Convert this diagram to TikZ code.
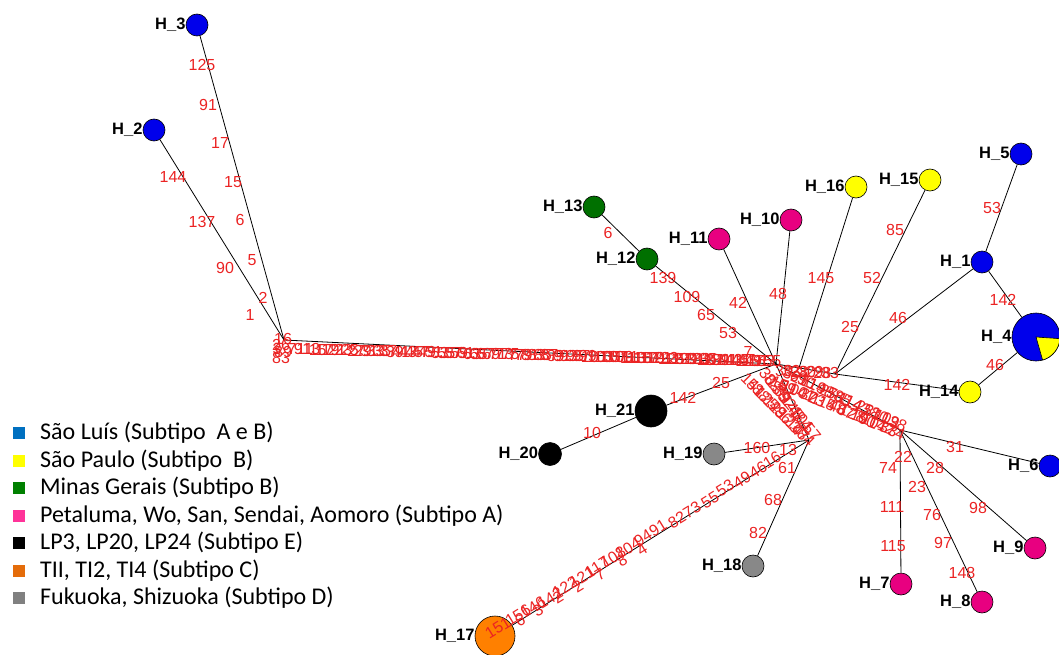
\documentclass[tikz,border=0pt]{standalone}
\usepackage{fontspec}
\setmainfont{Liberation Sans}
\newfontfamily\legendfont{Carlito}
\usetikzlibrary{calc}
\pgfdeclarelayer{edges}
\pgfsetlayers{edges,main}
% haplotype colours
\definecolor{numred}{RGB}{235,35,35}
\definecolor{hblue}{RGB}{0,0,235}
\definecolor{hpink}{RGB}{232,0,128}
\definecolor{hgreen}{RGB}{0,112,0}
\definecolor{hyellow}{RGB}{255,255,0}
\definecolor{hgray}{RGB}{136,136,136}
\definecolor{horange}{RGB}{255,128,0}
% legend colours
\definecolor{lblue}{RGB}{0,112,192}
\definecolor{lyellow}{RGB}{255,255,0}
\definecolor{lgreen}{RGB}{0,128,0}
\definecolor{lpink}{RGB}{255,51,153}
\definecolor{lorange}{RGB}{228,108,10}
\definecolor{lgray}{RGB}{128,128,128}
\begin{document}
\begin{tikzpicture}[x=1pt,y=-1pt,
  hap/.style={circle,draw=black,line width=0.6pt,inner sep=0pt,minimum size=22pt,label distance=1pt},
  namelbl/.style={font=\fontsize{16.5}{16.5}\selectfont\bfseries,text=black,inner sep=0pt},
  num/.style={text=numred,font=\fontsize{16}{16}\selectfont,inner sep=0pt},
  edge/.style={draw=black,line width=0.8pt},
  lgsq/.style={minimum size=12pt,inner sep=0pt},
  lgtxt/.style={font=\legendfont\fontsize{24}{24}\selectfont,inner sep=0pt,anchor=west}]
\useasboundingbox (0,0) rectangle (1059,655);

% ---------- median vectors (junctions) ----------
\coordinate (L) at (284,340);
\coordinate (C) at (776,364);
\coordinate (Cm) at (799,368);
\coordinate (B) at (835,374);
\coordinate (D) at (900,430);
\coordinate (E) at (809,440);

% ---------- haplotypes ----------
\node[hap,fill=hblue,label={[namelbl]left:H\_3}] (h3) at (197,25) {};
\node[hap,fill=hblue,label={[namelbl]left:H\_2}] (h2) at (154,130) {};
\node[hap,fill=hgreen,label={[namelbl]left:H\_13}] (h13) at (594,207) {};
\node[hap,fill=hgreen,label={[namelbl]left:H\_12}] (h12) at (647,259) {};
\node[hap,fill=hpink,label={[namelbl]left:H\_11}] (h11) at (719,239) {};
\node[hap,fill=hpink,label={[namelbl]left:H\_10}] (h10) at (791,220) {};
\node[hap,fill=hyellow,label={[namelbl]left:H\_16}] (h16) at (856,187) {};
\node[hap,fill=hyellow,label={[namelbl]left:H\_15}] (h15) at (930,180) {};
\node[hap,fill=hblue,label={[namelbl]left:H\_5}] (h5) at (1021,154) {};
\node[hap,fill=hblue,label={[namelbl]left:H\_1}] (h1) at (982,262) {};
\node[hap,fill=hblue,minimum size=48pt,label={[namelbl]left:H\_4}] (h4) at (1036,337) {};
\fill[hyellow,draw=black,line width=0.6pt] (h4.center) -- ++(4:24) arc[start angle=4,end angle=74,radius=24] -- cycle;
\node[hap,fill=hyellow,label={[namelbl]left:H\_14}] (h14) at (970,392) {};
\node[hap,fill=hblue,label={[namelbl]left:H\_6}] (h6) at (1050,466) {};
\node[hap,fill=hpink,label={[namelbl]left:H\_9}] (h9) at (1035,548) {};
\node[hap,fill=hpink,label={[namelbl]left:H\_8}] (h8) at (982,602) {};
\node[hap,fill=hpink,label={[namelbl]left:H\_7}] (h7) at (901,584) {};
\node[hap,fill=hgray,label={[namelbl]left:H\_18}] (h18) at (753,566) {};
\node[hap,fill=hgray,label={[namelbl]left:H\_19}] (h19) at (714,454) {};
\node[hap,fill=horange,minimum size=40pt,label={[namelbl]left:H\_17}] (h17) at (495,636) {};
\node[hap,fill=black,minimum size=23pt,label={[namelbl]left:H\_20}] (h20) at (550,454) {};
\node[hap,fill=black,minimum size=32pt,label={[namelbl]left:H\_21}] (h21) at (651,411) {};

% ---------- connectors ----------
\begin{pgfonlayer}{edges}
\draw[edge] (h3) -- (L);
\draw[edge] (h2) -- (L);
\draw[edge] (L) -- (C);
\draw[edge] (h13) -- (h12);
\draw[edge] (h12) -- (C);
\draw[edge] (h11) -- (C);
\draw[edge] (h10) -- (C);
\draw[edge] (h16) -- (Cm);
\draw[edge] (C) -- (B);
\draw[edge] (h15) -- (B);
\draw[edge] (h1) -- (B);
\draw[edge] (h14) -- (B);
\draw[edge] (h5) -- (h1);
\draw[edge] (h1) -- (h4);
\draw[edge] (h4) -- (h14);
\draw[edge] (h21) -- (C);
\draw[edge] (h20) -- (h21);
\draw[edge] (C) -- (E);
\draw[edge] (C) -- (D);
\draw[edge] (E) -- (h19);
\draw[edge] (E) -- (h18);
\draw[edge] (E) -- (h17);
\draw[edge] (D) -- (h6);
\draw[edge] (D) -- (h9);
\draw[edge] (D) -- (h8);
\draw[edge] (D) -- (h7);
\end{pgfonlayer}

% ---------- mutated positions ----------
% H_3 branch
\foreach \x/\y/\t in {202/65/125,208/105/91,220/143/17,233/182/15,240/220/6,252/260/5,263/298/2,250/315/1}
  \node[num] at (\x,\y) {\t};
% H_2 branch
\foreach \x/\y/\t in {173/177/144,202/222/137,225/268/90}
  \node[num] at (\x,\y) {\t};
% knot at the left junction
\foreach \x/\y/\t in {283/339/16,281/345/26,277/349/3,283/352/89,281/358/83}
  \node[num] at (\x,\y) {\t};
% long branch between the two junctions
\coordinate (sLa) at (292,349);
\coordinate (sLb) at (768,361);
\foreach \i in {0,...,74}{
  \pgfmathsetmacro\p{\i/74}
  \pgfmathtruncatemacro\n{7+2*\i}
  \path (sLa) -- (sLb) node[num,pos=\p] {\n};
}
% upper branches
\foreach \x/\y/\t in {608/233/6,663/278/139,687/297/109,706/315/65,728/333/53,748/352/7,
  738/303/42,778/294/48,821/278/145,895/230/85,872/278/52,850/327/25,898/318/46,
  992/208/53,1003/300/142,995/365/46,897/385/142,683/398/142,721/383/25,592/433/10}
  \node[num] at (\x,\y) {\t};
% short branch to the right junction
\coordinate (sBa) at (784,371);
\coordinate (sBb) at (830,373);
\foreach \i/\t in {0/30,1/32,2/28,3/30,4/29,5/28,6/33}{
  \pgfmathsetmacro\p{\i/6}
  \path (sBa) -- (sBb) node[num,pos=\p] {\t};
}
% bundles towards the lower junctions
\coordinate (rAa) at (750,382);
\coordinate (rAb) at (806,438);
\coordinate (rBa) at (768,377);
\coordinate (rBb) at (812,432);
\coordinate (rCa) at (780,384);
\coordinate (rCb) at (896,432);
\coordinate (rDa) at (792,375);
\coordinate (rDb) at (894,422);
\foreach \i in {0,...,10}{
  \pgfmathsetmacro\p{\i/10}
  \pgfmathtruncatemacro\n{mod(37*\i+13,150)+1}
  \path (rAa) -- (rAb) node[num,pos=\p,sloped] {\n};
}
\foreach \i in {0,...,9}{
  \pgfmathsetmacro\p{\i/9}
  \pgfmathtruncatemacro\n{mod(53*\i+29,150)+1}
  \path (rBa) -- (rBb) node[num,pos=\p,sloped] {\n};
}
\foreach \i in {0,...,16}{
  \pgfmathsetmacro\p{\i/16}
  \pgfmathtruncatemacro\n{mod(41*\i+17,150)+1}
  \path (rCa) -- (rCb) node[num,pos=\p,sloped] {\n};
}
\foreach \i in {0,...,14}{
  \pgfmathsetmacro\p{\i/14}
  \pgfmathtruncatemacro\n{mod(29*\i+31,150)+1}
  \path (rDa) -- (rDb) node[num,pos=\p,sloped] {\n};
}
% H_19 and H_18 branches
\foreach \x/\y/\t in {757/448/160,788/450/13,787/468/61,773/500/68,758/533/82}
  \node[num] at (\x,\y) {\t};
% H_17 branch
\foreach \x/\y/\t in {772/460/16,758/470/46,742/480/49,725/488/53,710/500/55,692/510/73,
  677/520/82,658/528/91,643/538/94,628/548/104,613/557/108,597/567/117,582/577/121,
  565/587/122,550/598/142,533/607/146,518/615/156,498/628/151}
  \node[num,rotate=31.6] at (\x,\y) {\t};
\foreach \x/\y/\t in {642/549/4,622/560/8,600/574/7,578/586/2,558/597/2,538/610/3,520/620/6}
  \node[num,rotate=31.6] at (\x,\y) {\t};
% lower right junction
\foreach \x/\y/\t in {955/447/31,903/457/22,888/468/74,935/468/28,917/487/23,892/507/111,
  932/515/76,978/508/98,893/546/115,943/543/97,962/573/148}
  \node[num] at (\x,\y) {\t};

% ---------- legend ----------
\node[lgsq,fill=lblue] (lg1) at (19,433) {};
\node[lgtxt] (lt1) at (40,433) {São Luís (Subtipo\ \ A e B)};
\node[lgsq,fill=lyellow] (lg2) at (19,460.5) {};
\node[lgtxt] (lt2) at (40,460.5) {São Paulo (Subtipo\ \ B)};
\node[lgsq,fill=lgreen] (lg3) at (19,488) {};
\node[lgtxt] (lt3) at (40,488) {Minas Gerais (Subtipo B)};
\node[lgsq,fill=lpink] (lg4) at (19,515.5) {};
\node[lgtxt] (lt4) at (40,515.5) {Petaluma, Wo, San, Sendai, Aomoro (Subtipo A)};
\node[lgsq,fill=black] (lg5) at (19,543) {};
\node[lgtxt] (lt5) at (40,543) {LP3, LP20, LP24 (Subtipo E)};
\node[lgsq,fill=lorange] (lg6) at (19,570.5) {};
\node[lgtxt] (lt6) at (40,570.5) {TII, TI2, TI4 (Subtipo C)};
\node[lgsq,fill=lgray] (lg7) at (19,598) {};
\node[lgtxt] (lt7) at (40,598) {Fukuoka, Shizuoka (Subtipo D)};
\end{tikzpicture}
\end{document}
